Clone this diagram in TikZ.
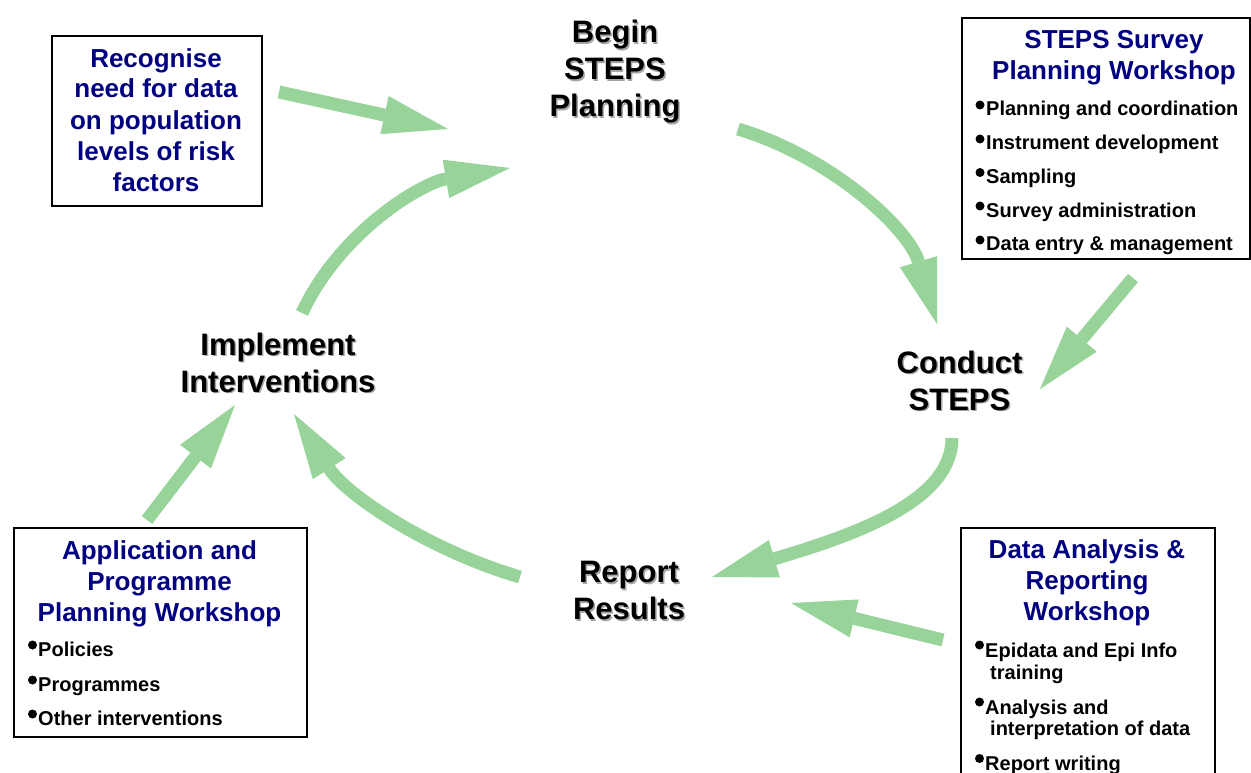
\documentclass[tikz,border=0pt]{standalone}
\usepackage{fontspec}
\setmainfont{Liberation Sans}
\usetikzlibrary{arrows.meta}
\definecolor{flowgreen}{RGB}{152,212,154}
\definecolor{headnavy}{RGB}{0,0,128}
\definecolor{shadowgray}{RGB}{165,165,165}
\begin{document}
\begin{tikzpicture}[x=1pt,y=-1pt,
  flow/.style={draw=flowgreen, line width=13pt, -{Triangle[length=65pt,width=39pt,line width=0pt]}},
  box/.style={draw=black, line width=1.8pt, fill=white, inner sep=0pt, anchor=north west},
  title/.style={font=\fontsize{31}{37}\selectfont\bfseries, align=center, anchor=base, inner sep=0pt},
  titleshadow/.style={title, text=shadowgray},
  head/.style={font=\fontsize{26}{31}\selectfont\bfseries, text=headnavy, align=center, anchor=base, inner sep=0pt},
  item/.style={font=\fontsize{20}{22}\selectfont\bfseries, anchor=base west, inner sep=0pt},
  dot/.style={circle, fill=black, inner sep=0pt, minimum size=9pt},
]
\useasboundingbox (0,0) rectangle (1251,773);
\clip (0,0) rectangle (1251,773);

% ---------- boxes ----------
\node[box, minimum width=210pt, minimum height=170pt] (recbox) at (51,35) {};
\node[box, minimum width=288pt, minimum height=241pt] (stepsbox) at (961,17) {};
\node[box, minimum width=254pt, minimum height=270pt] (databox) at (960,527) {};
\node[box, minimum width=293pt, minimum height=209pt] (appbox) at (13,527) {};

% ---------- box headings (anchor = baseline of last line) ----------
\node[head] (rechead) at (156,191) {Recognise\\need for data\\on population\\levels of risk\\factors};
\node[head] (stepshead) at (1114,80) {STEPS Survey\\Planning Workshop};
\node[head] (datahead) at (1087,620) {Data Analysis \&\\Reporting\\Workshop};
\node[head] (apphead) at (159.5,621) {Application and\\Programme\\Planning Workshop};

% ---------- STEPS survey items ----------
\node[dot] (sb1) at (980,105) {};
\node[item] (si1) at (986,116) {Planning and coordination};
\node[dot] (sb2) at (980,139) {};
\node[item] (si2) at (986,150) {Instrument development};
\node[dot] (sb3) at (980,172.5) {};
\node[item] (si3) at (986,183.5) {Sampling};
\node[dot] (sb4) at (980,206) {};
\node[item] (si4) at (986,217) {Survey administration};
\node[dot] (sb5) at (980,240) {};
\node[item] (si5) at (986,251) {Data entry \& management};

% ---------- data analysis items ----------
\node[dot] (db1) at (979.5,645) {};
\node[item] (di1) at (985,657) {Epidata and Epi Info};
\node[item] (di1b) at (990,679) {training};
\node[dot] (db2) at (979.5,702) {};
\node[item] (di2) at (985,714) {Analysis and};
\node[item] (di2b) at (990,735.5) {interpretation of data};
\node[dot] (db3) at (979.5,758.5) {};
\node[item] (di3) at (985,770.5) {Report writing};

% ---------- application items ----------
\node[dot] (ab1) at (32.5,645) {};
\node[item] (ai1) at (38,656) {Policies};
\node[dot] (ab2) at (32.5,680) {};
\node[item] (ai2) at (38,691) {Programmes};
\node[dot] (ab3) at (32.5,714) {};
\node[item] (ai3) at (38,725) {Other interventions};

% ---------- cycle titles (with shadow) ----------
\node[titleshadow] (begin-sh) at (616.5,118.5) {Begin\\STEPS\\Planning};
\node[title] (begin) at (615,117) {Begin\\STEPS\\Planning};
\node[titleshadow] (conduct-sh) at (961,411.5) {Conduct\\STEPS};
\node[title] (conduct) at (959.5,410) {Conduct\\STEPS};
\node[titleshadow] (report-sh) at (630.5,621) {Report\\Results};
\node[title] (report) at (629,619.5) {Report\\Results};
\node[titleshadow] (implement-sh) at (279.5,393.5) {Implement\\Interventions};
\node[title] (implement) at (278,392) {Implement\\Interventions};

% ---------- arrow end points ----------
\coordinate (s1) at (279,92);   \coordinate (t1) at (448,129);
\coordinate (s2) at (302,313);  \coordinate (t2) at (510,168);
\coordinate (s3) at (738,129);  \coordinate (t3) at (937,324);
\coordinate (s4) at (1133,278); \coordinate (t4) at (1040,389);
\coordinate (s5) at (952,438);  \coordinate (t5) at (712,577);
\coordinate (s6) at (520,577);  \coordinate (t6) at (294,414);
\coordinate (s7) at (147,520);  \coordinate (t7) at (235,405);
\coordinate (s8) at (943,640);  \coordinate (t8) at (791,603);

% ---------- arrows ----------
\draw[flow] (s1) -- (t1);
\draw[flow] (s2) .. controls (339.6,231.8) and (421.7,183) .. (t2);
\draw[flow] (s3) .. controls (832.5,157.3) and (908.9,229.3) .. (t3);
\draw[flow] (s4) -- (t4);
\draw[flow] (s5) .. controls (952,498) and (865.6,532) .. (t5);
\draw[flow] (s6) .. controls (428,550) and (346,494.6) .. (t6);
\draw[flow] (s7) -- (t7);
\draw[flow] (s8) -- (t8);
\end{tikzpicture}
\end{document}
